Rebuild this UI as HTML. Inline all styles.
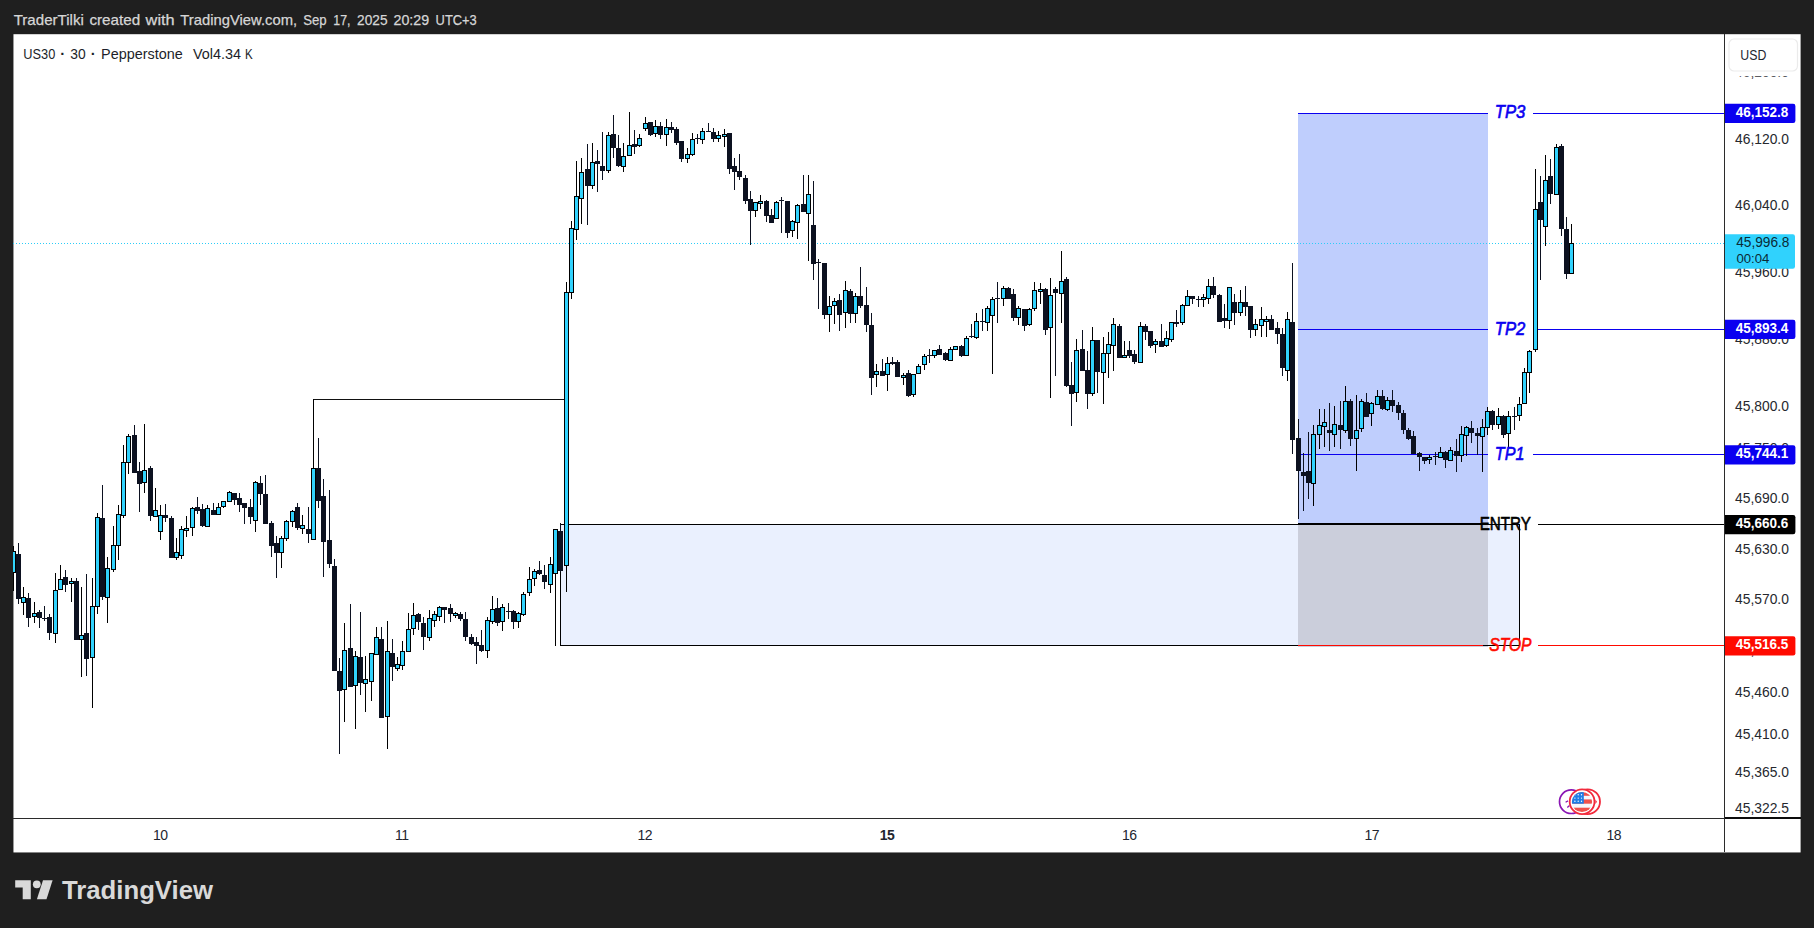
<!DOCTYPE html>
<html lang="en"><head><meta charset="utf-8"><title>US30 chart</title>
<style>html,body{margin:0;padding:0;background:#1f1f1f;overflow:hidden}body{width:1814px;height:928px}svg text{font-family:"Liberation Sans","DejaVu Sans",sans-serif}</style>
</head><body>
<svg width="1814" height="928" viewBox="0 0 1814 928" style="display:block">
<rect x="0" y="0" width="1814" height="928" fill="#1f1f1f"/>
<rect x="13.45" y="34.2" width="1787.15" height="818.25" fill="#ffffff"/>
<defs><clipPath id="pane"><rect x="13" y="34" width="1711.5" height="784"/></clipPath><clipPath id="axisclip"><rect x="1725" y="76.2" width="75" height="741"/></clipPath><clipPath id="flagclip"><circle cx="1582.0" cy="802.0" r="10.1"/></clipPath></defs>
<g clip-path="url(#pane)">
<rect x="561" y="525" width="958" height="120" fill="#eaf0fe"/>
<rect x="1298" y="114" width="190" height="410" fill="#bfcefd"/>
<rect x="1298" y="525" width="190" height="122" fill="#cbcedb"/>
<g shape-rendering="crispEdges">
<path d="M560 524h960v122h-960zM561 525v120h958v-120z" fill="#000" fill-rule="evenodd"/>
<rect x="313" y="399" width="252" height="1" fill="#111"/>
<rect x="1298" y="113" width="190" height="1" fill="#0a00f0"/>
<rect x="1533" y="113" width="192" height="1" fill="#0a00f0"/>
<rect x="1298" y="329" width="190" height="1" fill="#0a00f0"/>
<rect x="1533" y="329" width="192" height="1" fill="#0a00f0"/>
<rect x="1298" y="454" width="190" height="1" fill="#0a00f0"/>
<rect x="1533" y="454" width="192" height="1" fill="#0a00f0"/>
<rect x="1298" y="523" width="190" height="2" fill="#000"/>
<rect x="1538" y="524" width="187" height="1" fill="#000"/>
<rect x="1298" y="645" width="185" height="1" fill="#ff0a00"/>
<rect x="1538" y="645" width="187" height="1" fill="#ff0a00"/>
</g>
<path d="M13 243.5H1725" stroke="#2ccdf8" stroke-width="1" stroke-dasharray="1 2" shape-rendering="crispEdges"/>
<g shape-rendering="crispEdges">
<path d="M18 543h1v61h-1zM28 593h1v34h-1zM39 610h1v18h-1zM44 606h1v15h-1zM49 614h1v26h-1zM65 570h1v22h-1zM76 578h1v62h-1zM86 574h1v102h-1zM102 485h1v115h-1zM134 425h1v48h-1zM139 462h1v50h-1zM150 466h1v55h-1zM165 504h1v18h-1zM171 516h1v42h-1zM197 497h1v17h-1zM202 504h1v23h-1zM213 503h1v12h-1zM234 493h1v12h-1zM239 493h1v19h-1zM244 503h1v21h-1zM250 499h1v25h-1zM260 476h1v29h-1zM265 475h1v49h-1zM271 521h1v36h-1zM276 536h1v42h-1zM297 503h1v27h-1zM308 507h1v36h-1zM318 438h1v70h-1zM323 479h1v98h-1zM329 490h1v78h-1zM334 559h1v112h-1zM339 658h1v96h-1zM350 604h1v83h-1zM360 612h1v83h-1zM381 627h1v91h-1zM392 639h1v42h-1zM418 613h1v17h-1zM423 617h1v33h-1zM444 607h1v16h-1zM450 604h1v18h-1zM460 612h1v9h-1zM465 612h1v29h-1zM471 634h1v11h-1zM476 637h1v27h-1zM481 630h1v22h-1zM497 598h1v28h-1zM508 603h1v16h-1zM513 610h1v19h-1zM539 561h1v14h-1zM544 565h1v24h-1zM560 523h1v49h-1zM587 144h1v81h-1zM597 150h1v42h-1zM602 132h1v48h-1zM613 115h1v43h-1zM618 135h1v32h-1zM634 130h1v24h-1zM650 122h1v14h-1zM660 122h1v17h-1zM671 122h1v11h-1zM676 127h1v18h-1zM681 141h1v21h-1zM697 134h1v10h-1zM708 123h1v9h-1zM713 128h1v14h-1zM729 133h1v41h-1zM734 158h1v32h-1zM739 154h1v26h-1zM745 175h1v29h-1zM750 191h1v54h-1zM766 200h1v22h-1zM771 209h1v14h-1zM781 197h1v36h-1zM787 201h1v37h-1zM803 175h1v37h-1zM813 181h1v99h-1zM818 259h1v50h-1zM824 263h1v56h-1zM839 294h1v37h-1zM850 289h1v34h-1zM860 267h1v41h-1zM866 287h1v45h-1zM871 313h1v82h-1zM882 359h1v17h-1zM892 357h1v8h-1zM897 360h1v17h-1zM908 370h1v27h-1zM929 349h1v14h-1zM939 345h1v10h-1zM945 352h1v9h-1zM961 345h1v12h-1zM971 324h1v14h-1zM982 309h1v22h-1zM997 282h1v41h-1zM1008 287h1v12h-1zM1013 289h1v32h-1zM1024 309h1v22h-1zM1045 288h1v47h-1zM1055 287h1v89h-1zM1066 277h1v110h-1zM1071 362h1v64h-1zM1082 330h1v41h-1zM1087 351h1v58h-1zM1097 340h1v53h-1zM1119 324h1v34h-1zM1129 341h1v17h-1zM1134 350h1v14h-1zM1145 324h1v16h-1zM1150 331h1v17h-1zM1161 324h1v23h-1zM1176 310h1v17h-1zM1192 296h1v8h-1zM1198 296h1v11h-1zM1213 277h1v21h-1zM1219 294h1v28h-1zM1224 304h1v24h-1zM1234 294h1v31h-1zM1245 286h1v30h-1zM1250 306h1v32h-1zM1271 315h1v15h-1zM1277 322h1v22h-1zM1282 328h1v48h-1zM1292 263h1v191h-1zM1298 419h1v100h-1zM1303 453h1v58h-1zM1308 432h1v67h-1zM1329 403h1v48h-1zM1340 401h1v48h-1zM1350 399h1v47h-1zM1366 393h1v24h-1zM1382 390h1v20h-1zM1392 390h1v22h-1zM1398 402h1v18h-1zM1403 410h1v24h-1zM1408 428h1v12h-1zM1413 431h1v23h-1zM1419 452h1v19h-1zM1424 457h1v7h-1zM1435 452h1v13h-1zM1445 451h1v17h-1zM1456 439h1v33h-1zM1471 421h1v22h-1zM1477 428h1v27h-1zM1492 410h1v20h-1zM1503 415h1v23h-1zM1514 407h1v23h-1zM1540 176h1v104h-1zM1550 159h1v45h-1zM1561 144h1v92h-1zM1566 217h1v62h-1zM16 554h5v45h-5zM26 598h5v20h-5zM37 612h5v6h-5zM42 618h5v1h-5zM47 617h5v16h-5zM63 577h5v8h-5zM74 581h5v59h-5zM84 633h5v26h-5zM100 518h5v79h-5zM132 435h5v38h-5zM137 471h5v13h-5zM148 468h5v48h-5zM163 515h5v3h-5zM169 518h5v40h-5zM195 507h5v4h-5zM200 509h5v17h-5zM211 510h5v5h-5zM232 493h5v7h-5zM237 498h5v7h-5zM242 503h5v5h-5zM248 507h5v10h-5zM258 483h5v11h-5zM263 494h5v30h-5zM269 523h5v23h-5zM274 543h5v10h-5zM295 507h5v21h-5zM306 529h5v5h-5zM316 468h5v33h-5zM321 496h5v46h-5zM327 540h5v24h-5zM332 566h5v105h-5zM337 671h5v20h-5zM348 648h5v39h-5zM358 657h5v26h-5zM379 639h5v79h-5zM390 653h5v14h-5zM416 614h5v8h-5zM421 623h5v14h-5zM442 607h5v3h-5zM448 608h5v6h-5zM458 614h5v5h-5zM463 619h5v18h-5zM469 637h5v7h-5zM474 642h5v4h-5zM479 645h5v6h-5zM495 608h5v15h-5zM506 611h5v1h-5zM511 611h5v11h-5zM537 570h5v4h-5zM542 575h5v7h-5zM558 531h5v40h-5zM585 169h5v17h-5zM595 161h5v3h-5zM600 166h5v5h-5zM611 134h5v14h-5zM616 148h5v18h-5zM632 144h5v3h-5zM648 122h5v13h-5zM658 126h5v9h-5zM669 127h5v3h-5zM674 129h5v14h-5zM679 141h5v18h-5zM695 138h5v1h-5zM706 131h5v1h-5zM711 132h5v7h-5zM727 133h5v36h-5zM732 166h5v6h-5zM737 171h5v6h-5zM743 178h5v23h-5zM748 199h5v12h-5zM764 201h5v15h-5zM769 215h5v8h-5zM779 200h5v1h-5zM785 201h5v32h-5zM801 204h5v8h-5zM811 225h5v39h-5zM816 262h5v1h-5zM822 263h5v52h-5zM837 300h5v15h-5zM848 291h5v23h-5zM858 296h5v10h-5zM864 305h5v20h-5zM869 325h5v53h-5zM880 371h5v5h-5zM890 362h5v2h-5zM895 362h5v15h-5zM906 373h5v23h-5zM927 355h5v1h-5zM937 349h5v6h-5zM943 353h5v7h-5zM959 346h5v10h-5zM969 336h5v1h-5zM980 321h5v1h-5zM995 298h5v1h-5zM1006 288h5v11h-5zM1011 294h5v24h-5zM1022 309h5v17h-5zM1043 289h5v41h-5zM1053 289h5v4h-5zM1064 279h5v107h-5zM1069 385h5v9h-5zM1080 349h5v22h-5zM1085 370h5v24h-5zM1095 340h5v32h-5zM1117 326h5v32h-5zM1127 350h5v6h-5zM1132 354h5v8h-5zM1143 326h5v6h-5zM1148 331h5v15h-5zM1159 341h5v6h-5zM1174 322h5v2h-5zM1190 296h5v3h-5zM1196 299h5v1h-5zM1211 286h5v9h-5zM1217 295h5v27h-5zM1222 318h5v3h-5zM1232 302h5v11h-5zM1243 302h5v5h-5zM1248 306h5v24h-5zM1269 319h5v11h-5zM1275 328h5v6h-5zM1280 334h5v34h-5zM1290 322h5v118h-5zM1296 438h5v33h-5zM1301 472h5v4h-5zM1306 471h5v12h-5zM1327 430h5v3h-5zM1338 425h5v5h-5zM1348 401h5v38h-5zM1364 402h5v15h-5zM1380 396h5v13h-5zM1390 400h5v6h-5zM1396 405h5v8h-5zM1401 413h5v17h-5zM1406 430h5v9h-5zM1411 436h5v18h-5zM1417 453h5v4h-5zM1422 457h5v4h-5zM1433 456h5v1h-5zM1443 452h5v8h-5zM1454 451h5v5h-5zM1469 428h5v5h-5zM1475 433h5v3h-5zM1490 411h5v14h-5zM1501 416h5v19h-5zM1512 416h5v1h-5zM1538 202h5v18h-5zM1548 176h5v18h-5zM1559 146h5v83h-5zM1564 229h5v45h-5z" fill="#0c1120"/>
<path d="M13 546h1v45h-1zM23 587h1v28h-1zM34 602h1v21h-1zM55 573h1v70h-1zM60 565h1v25h-1zM71 578h1v24h-1zM81 587h1v90h-1zM92 578h1v130h-1zM97 513h1v101h-1zM107 557h1v66h-1zM113 526h1v46h-1zM118 505h1v55h-1zM123 445h1v73h-1zM128 434h1v40h-1zM144 424h1v69h-1zM155 488h1v29h-1zM160 505h1v35h-1zM176 538h1v22h-1zM181 526h1v33h-1zM186 516h1v21h-1zM192 507h1v29h-1zM207 505h1v22h-1zM218 503h1v12h-1zM223 501h1v7h-1zM229 491h1v11h-1zM255 481h1v51h-1zM281 536h1v32h-1zM286 520h1v21h-1zM292 510h1v17h-1zM302 515h1v19h-1zM313 399h1v141h-1zM344 623h1v99h-1zM355 651h1v78h-1zM365 656h1v56h-1zM371 653h1v48h-1zM376 627h1v28h-1zM387 621h1v128h-1zM397 657h1v14h-1zM402 641h1v29h-1zM408 613h1v39h-1zM413 603h1v32h-1zM429 610h1v31h-1zM434 611h1v16h-1zM439 606h1v15h-1zM455 612h1v6h-1zM487 617h1v41h-1zM492 596h1v28h-1zM502 604h1v27h-1zM518 612h1v16h-1zM523 592h1v24h-1zM529 567h1v29h-1zM534 569h1v17h-1zM550 557h1v36h-1zM555 529h1v117h-1zM566 282h1v310h-1zM571 221h1v78h-1zM576 161h1v79h-1zM581 158h1v66h-1zM592 143h1v46h-1zM608 132h1v41h-1zM623 143h1v29h-1zM629 112h1v44h-1zM639 134h1v13h-1zM645 117h1v14h-1zM655 120h1v17h-1zM666 119h1v27h-1zM687 148h1v15h-1zM692 133h1v23h-1zM702 128h1v16h-1zM718 131h1v11h-1zM724 129h1v18h-1zM755 202h1v15h-1zM760 195h1v14h-1zM776 201h1v18h-1zM792 220h1v17h-1zM797 204h1v35h-1zM808 175h1v86h-1zM829 296h1v36h-1zM834 298h1v26h-1zM845 281h1v47h-1zM855 293h1v30h-1zM876 364h1v23h-1zM887 357h1v34h-1zM903 373h1v12h-1zM913 374h1v23h-1zM918 364h1v10h-1zM924 354h1v16h-1zM934 350h1v8h-1zM950 347h1v14h-1zM955 346h1v4h-1zM966 336h1v20h-1zM976 313h1v26h-1zM987 306h1v25h-1zM992 297h1v77h-1zM1003 286h1v20h-1zM1018 306h1v19h-1zM1029 308h1v18h-1zM1034 282h1v29h-1zM1040 283h1v21h-1zM1050 278h1v120h-1zM1061 251h1v72h-1zM1076 339h1v63h-1zM1092 327h1v69h-1zM1103 337h1v67h-1zM1108 332h1v46h-1zM1113 318h1v53h-1zM1124 341h1v17h-1zM1140 322h1v41h-1zM1155 339h1v14h-1zM1166 331h1v16h-1zM1171 322h1v20h-1zM1182 304h1v21h-1zM1187 290h1v16h-1zM1203 294h1v13h-1zM1208 279h1v25h-1zM1229 287h1v42h-1zM1240 290h1v26h-1zM1255 319h1v17h-1zM1261 307h1v30h-1zM1266 316h1v21h-1zM1287 312h1v69h-1zM1313 425h1v81h-1zM1319 409h1v40h-1zM1324 409h1v38h-1zM1334 406h1v41h-1zM1345 386h1v47h-1zM1356 395h1v76h-1zM1361 399h1v33h-1zM1371 402h1v24h-1zM1377 390h1v15h-1zM1387 397h1v14h-1zM1429 455h1v9h-1zM1440 447h1v11h-1zM1450 447h1v14h-1zM1461 426h1v36h-1zM1466 426h1v30h-1zM1482 419h1v53h-1zM1487 407h1v28h-1zM1498 408h1v21h-1zM1508 411h1v36h-1zM1519 397h1v24h-1zM1524 368h1v36h-1zM1529 350h1v43h-1zM1535 169h1v183h-1zM1545 155h1v91h-1zM1556 144h1v51h-1zM1571 224h1v50h-1zM11 551h5v22h-5zM21 597h5v6h-5zM32 613h5v4h-5zM53 590h5v44h-5zM58 579h5v11h-5zM69 581h5v3h-5zM79 635h5v5h-5zM90 606h5v52h-5zM95 517h5v90h-5zM105 568h5v30h-5zM111 545h5v25h-5zM116 514h5v32h-5zM121 462h5v54h-5zM126 436h5v27h-5zM142 470h5v13h-5zM153 510h5v7h-5zM158 515h5v17h-5zM174 552h5v6h-5zM179 529h5v27h-5zM184 528h5v3h-5zM190 508h5v20h-5zM205 508h5v19h-5zM216 507h5v8h-5zM221 501h5v6h-5zM227 492h5v10h-5zM253 482h5v39h-5zM279 538h5v15h-5zM284 521h5v18h-5zM290 511h5v11h-5zM300 525h5v4h-5zM311 468h5v72h-5zM342 650h5v40h-5zM353 656h5v30h-5zM363 679h5v5h-5zM369 653h5v29h-5zM374 637h5v18h-5zM385 651h5v66h-5zM395 664h5v5h-5zM400 651h5v15h-5zM406 629h5v23h-5zM411 615h5v14h-5zM427 618h5v20h-5zM432 614h5v7h-5zM437 607h5v10h-5zM453 613h5v3h-5zM485 620h5v31h-5zM490 609h5v13h-5zM500 607h5v15h-5zM516 613h5v9h-5zM521 594h5v21h-5zM527 579h5v14h-5zM532 571h5v8h-5zM548 564h5v21h-5zM553 529h5v45h-5zM564 292h5v274h-5zM569 228h5v65h-5zM574 196h5v34h-5zM579 172h5v27h-5zM590 162h5v24h-5zM606 135h5v36h-5zM621 156h5v11h-5zM627 145h5v11h-5zM637 138h5v8h-5zM643 123h5v6h-5zM653 126h5v8h-5zM664 127h5v8h-5zM685 154h5v5h-5zM690 139h5v16h-5zM700 131h5v9h-5zM716 135h5v4h-5zM722 134h5v3h-5zM753 202h5v9h-5zM758 201h5v3h-5zM774 202h5v17h-5zM790 221h5v10h-5zM795 205h5v18h-5zM806 194h5v20h-5zM827 306h5v9h-5zM832 301h5v5h-5zM843 290h5v23h-5zM853 296h5v18h-5zM874 371h5v4h-5zM885 363h5v12h-5zM901 375h5v3h-5zM911 374h5v21h-5zM916 366h5v8h-5zM922 356h5v9h-5zM932 350h5v6h-5zM948 349h5v12h-5zM953 346h5v4h-5zM964 338h5v18h-5zM974 321h5v17h-5zM985 308h5v15h-5zM990 299h5v17h-5zM1001 288h5v11h-5zM1016 308h5v10h-5zM1027 309h5v16h-5zM1032 290h5v19h-5zM1038 289h5v3h-5zM1048 295h5v33h-5zM1059 281h5v13h-5zM1074 350h5v43h-5zM1090 340h5v54h-5zM1101 353h5v20h-5zM1106 344h5v10h-5zM1111 324h5v22h-5zM1122 355h5v3h-5zM1138 326h5v37h-5zM1153 341h5v4h-5zM1164 338h5v8h-5zM1169 322h5v18h-5zM1180 305h5v18h-5zM1185 296h5v10h-5zM1201 297h5v3h-5zM1206 286h5v13h-5zM1227 287h5v34h-5zM1238 302h5v11h-5zM1253 324h5v6h-5zM1259 319h5v7h-5zM1264 319h5v3h-5zM1285 319h5v52h-5zM1311 434h5v50h-5zM1317 425h5v10h-5zM1322 422h5v5h-5zM1332 424h5v11h-5zM1343 401h5v30h-5zM1354 430h5v9h-5zM1359 401h5v28h-5zM1369 403h5v11h-5zM1375 396h5v9h-5zM1385 400h5v10h-5zM1427 457h5v3h-5zM1438 452h5v6h-5zM1448 450h5v11h-5zM1459 434h5v22h-5zM1464 427h5v9h-5zM1480 427h5v10h-5zM1485 411h5v17h-5zM1496 416h5v9h-5zM1506 416h5v18h-5zM1517 404h5v12h-5zM1522 372h5v32h-5zM1527 351h5v22h-5zM1533 209h5v141h-5zM1543 180h5v47h-5zM1554 147h5v48h-5zM1569 243h5v31h-5z" fill="#000"/>
<path d="M12 552h3v20h-3zM22 598h3v4h-3zM33 614h3v2h-3zM54 591h3v42h-3zM59 580h3v9h-3zM70 582h3v1h-3zM80 636h3v3h-3zM91 607h3v50h-3zM96 518h3v88h-3zM106 569h3v28h-3zM112 546h3v23h-3zM117 515h3v30h-3zM122 463h3v52h-3zM127 437h3v25h-3zM143 471h3v11h-3zM154 511h3v5h-3zM159 516h3v15h-3zM175 553h3v4h-3zM180 530h3v25h-3zM185 529h3v1h-3zM191 509h3v18h-3zM206 509h3v17h-3zM217 508h3v6h-3zM222 502h3v4h-3zM228 493h3v8h-3zM254 483h3v37h-3zM280 539h3v13h-3zM285 522h3v16h-3zM291 512h3v9h-3zM301 526h3v2h-3zM312 469h3v70h-3zM343 651h3v38h-3zM354 657h3v28h-3zM364 680h3v3h-3zM370 654h3v27h-3zM375 638h3v16h-3zM386 652h3v64h-3zM396 665h3v3h-3zM401 652h3v13h-3zM407 630h3v21h-3zM412 616h3v12h-3zM428 619h3v18h-3zM433 615h3v5h-3zM438 608h3v8h-3zM454 614h3v1h-3zM486 621h3v29h-3zM491 610h3v11h-3zM501 608h3v13h-3zM517 614h3v7h-3zM522 595h3v19h-3zM528 580h3v12h-3zM533 572h3v6h-3zM549 565h3v19h-3zM554 530h3v43h-3zM565 293h3v272h-3zM570 229h3v63h-3zM575 197h3v32h-3zM580 173h3v25h-3zM591 163h3v22h-3zM607 136h3v34h-3zM622 157h3v9h-3zM628 146h3v9h-3zM638 139h3v6h-3zM644 124h3v4h-3zM654 127h3v6h-3zM665 128h3v6h-3zM686 155h3v3h-3zM691 140h3v14h-3zM701 132h3v7h-3zM717 136h3v2h-3zM723 135h3v1h-3zM754 203h3v7h-3zM759 202h3v1h-3zM775 203h3v15h-3zM791 222h3v8h-3zM796 206h3v16h-3zM807 195h3v18h-3zM828 307h3v7h-3zM833 302h3v3h-3zM844 291h3v21h-3zM854 297h3v16h-3zM875 372h3v2h-3zM886 364h3v10h-3zM902 376h3v1h-3zM912 375h3v19h-3zM917 367h3v6h-3zM923 357h3v7h-3zM933 351h3v4h-3zM949 350h3v10h-3zM954 347h3v2h-3zM965 339h3v16h-3zM975 322h3v15h-3zM986 309h3v13h-3zM991 300h3v15h-3zM1002 289h3v9h-3zM1017 309h3v8h-3zM1028 310h3v14h-3zM1033 291h3v17h-3zM1039 290h3v1h-3zM1049 296h3v31h-3zM1060 282h3v11h-3zM1075 351h3v41h-3zM1091 341h3v52h-3zM1102 354h3v18h-3zM1107 345h3v8h-3zM1112 325h3v20h-3zM1123 356h3v1h-3zM1139 327h3v35h-3zM1154 342h3v2h-3zM1165 339h3v6h-3zM1170 323h3v16h-3zM1181 306h3v16h-3zM1186 297h3v8h-3zM1202 298h3v1h-3zM1207 287h3v11h-3zM1228 288h3v32h-3zM1239 303h3v9h-3zM1254 325h3v4h-3zM1260 320h3v5h-3zM1265 320h3v1h-3zM1286 320h3v50h-3zM1312 435h3v48h-3zM1318 426h3v8h-3zM1323 423h3v3h-3zM1333 425h3v9h-3zM1344 402h3v28h-3zM1355 431h3v7h-3zM1360 402h3v26h-3zM1370 404h3v9h-3zM1376 397h3v7h-3zM1386 401h3v8h-3zM1428 458h3v1h-3zM1439 453h3v4h-3zM1449 451h3v9h-3zM1460 435h3v20h-3zM1465 428h3v7h-3zM1481 428h3v8h-3zM1486 412h3v15h-3zM1497 417h3v7h-3zM1507 417h3v16h-3zM1518 405h3v10h-3zM1523 373h3v30h-3zM1528 352h3v20h-3zM1534 210h3v139h-3zM1544 181h3v45h-3zM1555 148h3v46h-3zM1570 244h3v29h-3z" fill="#31d2fd"/>
</g>
<text x="1494.8" y="117.8" font-size="18" font-style="italic" fill="#0a00f0" stroke="#0a00f0" stroke-width="0.6" textLength="30.6" lengthAdjust="spacingAndGlyphs">TP3</text>
<text x="1494.8" y="334.5" font-size="18" font-style="italic" fill="#0a00f0" stroke="#0a00f0" stroke-width="0.6" textLength="30.6" lengthAdjust="spacingAndGlyphs">TP2</text>
<text x="1494.8" y="459.6" font-size="18" font-style="italic" fill="#0a00f0" stroke="#0a00f0" stroke-width="0.6" textLength="29.6" lengthAdjust="spacingAndGlyphs">TP1</text>
<text x="1479.7" y="529.7" font-size="18" fill="#000" stroke="#000" stroke-width="0.6" textLength="51.2" lengthAdjust="spacingAndGlyphs">ENTRY</text>
<text x="1489.3" y="650.5" font-size="18" font-style="italic" fill="#ff0a00" stroke="#ff0a00" stroke-width="0.6" textLength="42.2" lengthAdjust="spacingAndGlyphs">STOP</text>
<circle cx="1571.3" cy="801.7" r="11.8" fill="#fff" stroke="#8a16b4" stroke-width="1.7"/>
<path d="M1565.6 802.2l2.4-1.3M1567.3 807.5l2.2-1.9" stroke="#8a16b4" stroke-width="1.3"/>
<circle cx="1587.6" cy="801.7" r="12.4" fill="#fff" stroke="#f22a3c" stroke-width="1.8"/>
<path d="M1595.4 799.5l1.6 2.2l-1.6 2.2z" fill="#f22a3c"/>
<circle cx="1582.1" cy="801.7" r="12.4" fill="#fff" stroke="#f22a3c" stroke-width="1.8"/>
<g clip-path="url(#flagclip)"><rect x="1571" y="791" width="23" height="22" fill="#f6f7fb"/><rect x="1571" y="791" width="23" height="4.8" fill="#f0504c"/><rect x="1571" y="799.4" width="23" height="4.3" fill="#f0504c"/><rect x="1571" y="807.7" width="23" height="5" fill="#f0504c"/><rect x="1571" y="791" width="12.8" height="12.7" fill="#1f7de6"/><g fill="#fff"><circle cx="1574.9" cy="794.8" r="0.7"/><circle cx="1574.9" cy="798.1" r="0.7"/><circle cx="1574.9" cy="801.2" r="0.7"/><circle cx="1578.2" cy="794.8" r="0.7"/><circle cx="1578.2" cy="798.1" r="0.7"/><circle cx="1578.2" cy="801.2" r="0.7"/><circle cx="1581.5" cy="794.8" r="0.7"/><circle cx="1581.5" cy="798.1" r="0.7"/><circle cx="1581.5" cy="801.2" r="0.7"/></g></g>
</g>
<text y="24.8" font-size="15" fill="#d6d6d6" stroke="#d6d6d6" stroke-width="0.25"><tspan x="13.7" textLength="70.1" lengthAdjust="spacingAndGlyphs">TraderTilki</tspan> <tspan x="89.4" textLength="50.9" lengthAdjust="spacingAndGlyphs">created</tspan> <tspan x="145.6" textLength="29.1" lengthAdjust="spacingAndGlyphs">with</tspan> <tspan x="180.3" textLength="116.9" lengthAdjust="spacingAndGlyphs">TradingView.com,</tspan> <tspan x="303.2" textLength="23.5" lengthAdjust="spacingAndGlyphs">Sep</tspan> <tspan x="333.3" textLength="17.2" lengthAdjust="spacingAndGlyphs">17,</tspan> <tspan x="357.1" textLength="30.4" lengthAdjust="spacingAndGlyphs">2025</tspan> <tspan x="393.5" textLength="35.7" lengthAdjust="spacingAndGlyphs">20:29</tspan> <tspan x="435.6" textLength="41.2" lengthAdjust="spacingAndGlyphs">UTC+3</tspan></text>
<text y="58.7" font-size="15" fill="#1c1f2a"><tspan x="23.3" textLength="32.0" lengthAdjust="spacingAndGlyphs">US30</tspan> <tspan x="64.8" text-anchor="middle" font-weight="bold">·</tspan> <tspan x="70.3" textLength="15.4" lengthAdjust="spacingAndGlyphs">30</tspan> <tspan x="95.4" text-anchor="middle" font-weight="bold">·</tspan> <tspan x="101.1" textLength="81.7" lengthAdjust="spacingAndGlyphs">Pepperstone</tspan></text>
<text y="58.7" font-size="15" fill="#1c1f2a"><tspan x="192.9" textLength="48.0" lengthAdjust="spacingAndGlyphs">Vol4.34</tspan> <tspan x="244.9" textLength="7.7" lengthAdjust="spacingAndGlyphs">K</tspan></text>
<g shape-rendering="crispEdges">
<rect x="1724" y="34" width="1" height="818.4" fill="#2b2b2b"/>
<rect x="13.45" y="818" width="1711" height="1" fill="#2b2b2b"/>
<rect x="1725" y="817" width="75.6" height="2" fill="#0c0c0c"/>
</g>
<rect x="1729" y="39" width="68.5" height="32" rx="5" fill="#fff" stroke="#ebebeb" stroke-width="1.2"/>
<text x="1740.3" y="59.8" font-size="15.4" fill="#23262f" textLength="26" lengthAdjust="spacingAndGlyphs">USD</text>
<g clip-path="url(#axisclip)" font-size="14" fill="#26282e">
<text x="1735.0" y="77.0" textLength="53.9" lengthAdjust="spacingAndGlyphs">46,200.0</text>
<text x="1735.0" y="143.5" textLength="53.9" lengthAdjust="spacingAndGlyphs">46,120.0</text>
<text x="1735.0" y="210.2" textLength="53.9" lengthAdjust="spacingAndGlyphs">46,040.0</text>
<text x="1735.0" y="276.9" textLength="53.9" lengthAdjust="spacingAndGlyphs">45,960.0</text>
<text x="1735.0" y="343.8" textLength="53.9" lengthAdjust="spacingAndGlyphs">45,880.0</text>
<text x="1735.0" y="410.9" textLength="53.9" lengthAdjust="spacingAndGlyphs">45,800.0</text>
<text x="1735.0" y="452.8" textLength="53.9" lengthAdjust="spacingAndGlyphs">45,750.0</text>
<text x="1735.0" y="503.2" textLength="53.9" lengthAdjust="spacingAndGlyphs">45,690.0</text>
<text x="1735.0" y="553.7" textLength="53.9" lengthAdjust="spacingAndGlyphs">45,630.0</text>
<text x="1735.0" y="604.2" textLength="53.9" lengthAdjust="spacingAndGlyphs">45,570.0</text>
<text x="1735.0" y="654.8" textLength="53.9" lengthAdjust="spacingAndGlyphs">45,510.0</text>
<text x="1735.0" y="697.0" textLength="53.9" lengthAdjust="spacingAndGlyphs">45,460.0</text>
<text x="1735.0" y="739.2" textLength="53.9" lengthAdjust="spacingAndGlyphs">45,410.0</text>
<text x="1735.0" y="777.3" textLength="53.9" lengthAdjust="spacingAndGlyphs">45,365.0</text>
<text x="1735.0" y="813.3" textLength="53.9" lengthAdjust="spacingAndGlyphs">45,322.5</text>
</g>
<path d="M1725 103.7H1793.2a2.2 2.2 0 0 1 2.2 2.2V120.7a2.2 2.2 0 0 1 -2.2 2.2H1725z" fill="#0a00f0"/>
<text x="1735.8" y="116.9" font-size="13.8" font-weight="bold" fill="#fff" textLength="52.6" lengthAdjust="spacingAndGlyphs">46,152.8</text>
<path d="M1725 319.8H1793.2a2.2 2.2 0 0 1 2.2 2.2V336.8a2.2 2.2 0 0 1 -2.2 2.2H1725z" fill="#0a00f0"/>
<text x="1735.8" y="333.0" font-size="13.8" font-weight="bold" fill="#fff" textLength="52.6" lengthAdjust="spacingAndGlyphs">45,893.4</text>
<path d="M1725 445.2H1793.2a2.2 2.2 0 0 1 2.2 2.2V462.2a2.2 2.2 0 0 1 -2.2 2.2H1725z" fill="#0a00f0"/>
<text x="1735.8" y="458.4" font-size="13.8" font-weight="bold" fill="#fff" textLength="52.6" lengthAdjust="spacingAndGlyphs">45,744.1</text>
<path d="M1725 515.1H1793.2a2.2 2.2 0 0 1 2.2 2.2V532.1a2.2 2.2 0 0 1 -2.2 2.2H1725z" fill="#000000"/>
<text x="1735.8" y="528.3" font-size="13.8" font-weight="bold" fill="#fff" textLength="52.6" lengthAdjust="spacingAndGlyphs">45,660.6</text>
<path d="M1725 636.2H1793.2a2.2 2.2 0 0 1 2.2 2.2V653.2a2.2 2.2 0 0 1 -2.2 2.2H1725z" fill="#ff0a00"/>
<text x="1735.8" y="649.4" font-size="13.8" font-weight="bold" fill="#fff" textLength="52.6" lengthAdjust="spacingAndGlyphs">45,516.5</text>
<path d="M1725 234.2H1792.8a2.2 2.2 0 0 1 2.2 2.2V266.5a2.2 2.2 0 0 1 -2.2 2.2H1725z" fill="#30d2fd"/>
<text x="1736.2" y="246.8" font-size="14" fill="#0a2a36" textLength="53.3" lengthAdjust="spacingAndGlyphs">45,996.8</text>
<text x="1736.4" y="262.8" font-size="13.4" fill="#0a2a36" textLength="33" lengthAdjust="spacingAndGlyphs">00:04</text>
<text x="160.25" y="840.2" font-size="14" fill="#23262f" text-anchor="middle" letter-spacing="-0.5">10</text>
<text x="401.75" y="840.2" font-size="14" fill="#23262f" text-anchor="middle" letter-spacing="-0.5">11</text>
<text x="644.75" y="840.2" font-size="14" fill="#23262f" text-anchor="middle" letter-spacing="-0.5">12</text>
<text x="887.05" y="840.2" font-size="14" fill="#23262f" font-weight="bold" text-anchor="middle" letter-spacing="-0.5">15</text>
<text x="1129.25" y="840.2" font-size="14" fill="#23262f" text-anchor="middle" letter-spacing="-0.5">16</text>
<text x="1371.75" y="840.2" font-size="14" fill="#23262f" text-anchor="middle" letter-spacing="-0.5">17</text>
<text x="1613.75" y="840.2" font-size="14" fill="#23262f" text-anchor="middle" letter-spacing="-0.5">18</text>
<g fill="#d9d9d9">
<path d="M15.2 880.3H30.8V899.2H22.7V887.6H15.2z"/>
<circle cx="36.8" cy="884.3" r="3.9"/>
<path d="M43.0 880.3H52.6L46.5 899.2H36.9z"/>
<text x="62" y="899.2" font-size="26" font-weight="bold" textLength="151" lengthAdjust="spacingAndGlyphs">TradingView</text>
</g>
</svg>
</body></html>
